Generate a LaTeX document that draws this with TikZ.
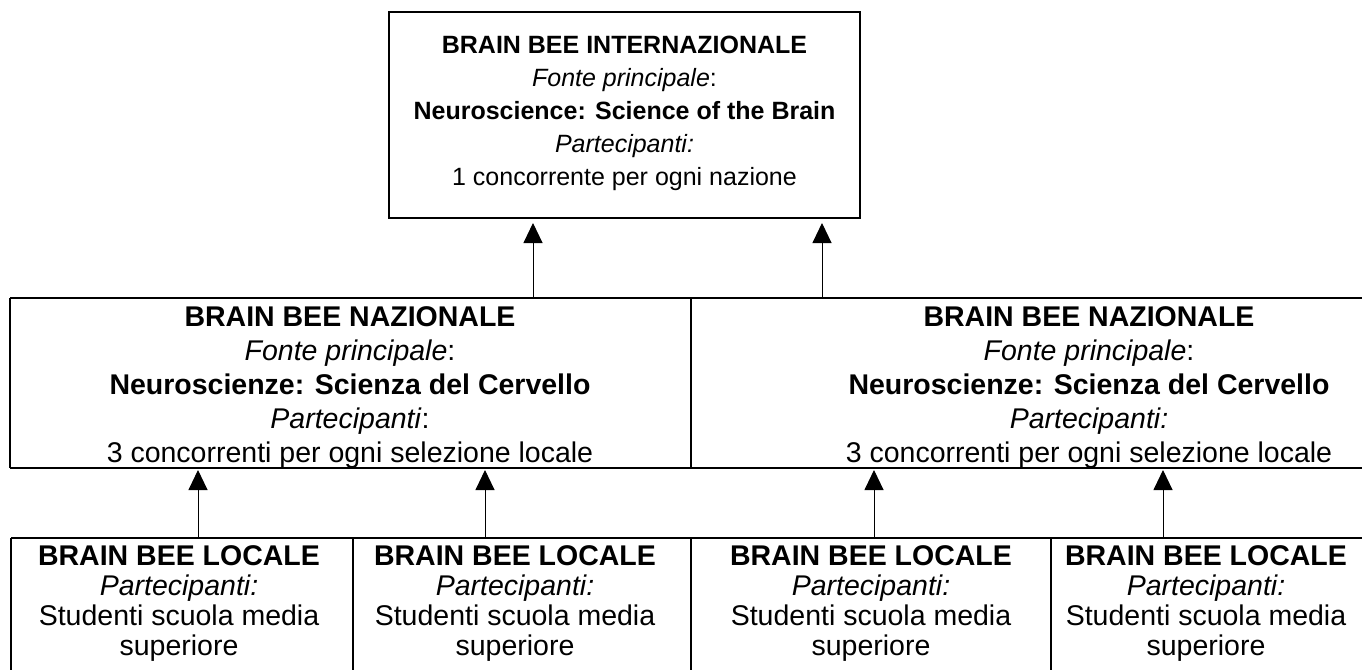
\documentclass[tikz,border=0pt]{standalone}
\usepackage{fontspec}
\setmainfont{Liberation Sans}
\usetikzlibrary{arrows.meta}
\begin{document}
\begin{tikzpicture}[x=1pt,y=-1pt,
  box/.style={rectangle, inner sep=0pt, outer sep=0pt},
  toptxt/.style={align=center, inner sep=0pt, font=\fontsize{25}{33}\selectfont},
  midtxt/.style={align=center, inner sep=0pt, font=\fontsize{28.5}{34}\selectfont},
  lowtxt/.style={align=center, inner sep=0pt, font=\fontsize{28.5}{30}\selectfont},
  hline/.style={line width=2pt},
  vline/.style={line width=1.5pt},
  conn/.style={line width=1pt, -{Triangle[length=20pt,width=19pt]}}]
\useasboundingbox[fill=white] (0,0) rectangle (1362,670);

% top box
\node[box, draw, line width=1.3pt, minimum width=471pt, minimum height=206pt] (int) at (624.5,115) {};
\node[toptxt] (intt) at (624.5,113) {\textbf{BRAIN BEE INTERNAZIONALE}\\\textit{Fonte principale}:\\\textbf{Neuroscience: Science of the Brain}\\\textit{Partecipanti:}\\1 concorrente per ogni nazione};

% national boxes
\node[box, minimum width=681pt, minimum height=170pt] (nat1) at (350.5,383) {};
\node[box, minimum width=671pt, minimum height=170pt] (nat2) at (1026.5,383) {};
\draw[hline] (nat1.north west) -- (nat2.north east);
\draw[hline] (nat1.south west) -- (nat2.south east);
\draw[vline] (nat1.north west) -- (nat1.south west);
\draw[vline] (nat1.north east) -- (nat1.south east);
\node[midtxt] (nat1t) at (350,387) {\textbf{BRAIN BEE NAZIONALE}\\\textit{Fonte principale}:\\\textbf{Neuroscienze: Scienza del Cervello}\\\textit{Partecipanti}:\\3 concorrenti per ogni selezione locale};
\node[midtxt] (nat2t) at (1089,387) {\textbf{BRAIN BEE NAZIONALE}\\\textit{Fonte principale}:\\\textbf{Neuroscienze: Scienza del Cervello}\\\textit{Partecipanti:}\\3 concorrenti per ogni selezione locale};

% local boxes
\node[box, minimum width=342pt, minimum height=132pt] (loc1) at (182,604) {};
\node[box, minimum width=338pt, minimum height=132pt] (loc2) at (522,604) {};
\node[box, minimum width=360pt, minimum height=132pt] (loc3) at (871,604) {};
\node[box, minimum width=311pt, minimum height=132pt] (loc4) at (1206.5,604) {};
\draw[hline] (loc1.north west) -- (loc4.north east);
\draw[vline] (loc1.north west) -- (loc1.south west);
\draw[vline] (loc2.north west) -- (loc2.south west);
\draw[vline] (loc3.north west) -- (loc3.south west);
\draw[vline] (loc4.north west) -- (loc4.south west);
\foreach \n/\x in {1/179,2/515,3/871,4/1206}{
  \node[lowtxt] (loc\n t) at (\x,603) {\textbf{BRAIN BEE LOCALE}\\\textit{Partecipanti:}\\Studenti scuola media\\superiore};
}

% connectors
\coordinate (i1) at (533,223);
\coordinate (i2) at (822,223);
\draw[conn] (nat1.north -| i1) -- (i1);
\draw[conn] (nat2.north -| i2) -- (i2);
\coordinate (n1) at (198,470);
\coordinate (n2) at (485,470);
\coordinate (n3) at (874,470);
\coordinate (n4) at (1163,470);
\draw[conn] (loc1.north -| n1) -- (n1);
\draw[conn] (loc2.north -| n2) -- (n2);
\draw[conn] (loc3.north -| n3) -- (n3);
\draw[conn] (loc4.north -| n4) -- (n4);
\end{tikzpicture}
\end{document}
